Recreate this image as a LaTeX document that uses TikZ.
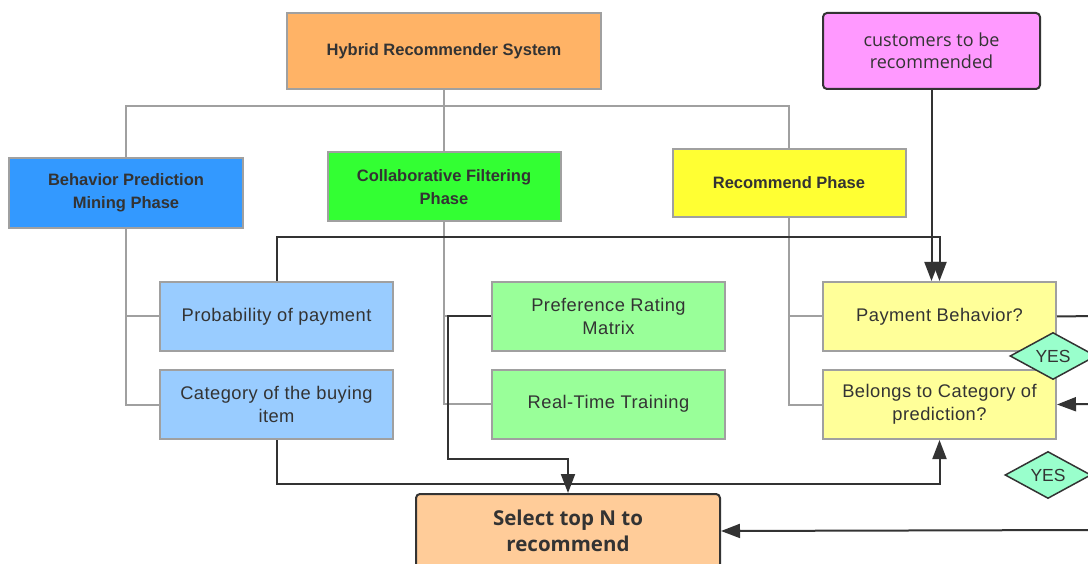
\documentclass[tikz,border=0pt]{standalone}
\usepackage{fontspec}
\setmainfont{Liberation Sans}
\newfontfamily\osans{Open Sans}
\newfontfamily\leaffont[LetterSpace=2.5]{Liberation Sans}
\usetikzlibrary{shapes.geometric,arrows.meta}
\definecolor{txt}{HTML}{333333}
\definecolor{bordergray}{HTML}{A0A0A0}
\definecolor{cHybrid}{HTML}{FFB366}
\definecolor{cBP}{HTML}{3399FF}
\definecolor{cCF}{HTML}{33FF33}
\definecolor{cRP}{HTML}{FFFF33}
\definecolor{cCust}{HTML}{FF99FF}
\definecolor{cBlue}{HTML}{99CCFF}
\definecolor{cGreen}{HTML}{99FF99}
\definecolor{cYellow}{HTML}{FFFF99}
\definecolor{cSel}{HTML}{FFCC99}
\definecolor{cYes}{HTML}{99FFCC}
\definecolor{dark}{HTML}{333333}
\tikzset{
  box/.style={draw=bordergray, line width=2pt, text=txt, align=center, inner sep=2pt,
    minimum width=233pt, minimum height=69pt},
  head/.style={box, font=\fontsize{16.5}{22.5}\selectfont\bfseries},
  leaf/.style={box, font=\leaffont\fontsize{18.3}{22.5}\selectfont},
  rbox/.style={draw=dark, line width=2pt, rounded corners=4pt, text=txt, align=center},
  yesd/.style={diamond, draw=dark, line width=1.5pt, fill=cYes, text=txt, inner sep=0pt,
    minimum width=86pt, minimum height=47pt, aspect=1.83, font=\fontsize{17.5}{20}\selectfont},
  tree/.style={draw=bordergray, line width=2pt},
  conn/.style={draw=dark, line width=2pt, -{Triangle[length=19pt,width=14pt]}},
  plain/.style={draw=dark, line width=2pt},
}
\begin{document}
\begin{tikzpicture}[x=1pt,y=-1pt]
\useasboundingbox (0,0) rectangle (1088,564);
\fill[white] (0,0) rectangle (1088,564);
\clip (0,0) rectangle (1088,564);

\coordinate (tj) at (444,106);
\coordinate (e1) at (1095,316);
\coordinate (e2) at (1095,404);
\coordinate (e3) at (1095,530);

\node[head, fill=cHybrid, minimum width=314pt, minimum height=76pt] (hyb) at (444,51) {Hybrid Recommender System};
\node[head, fill=cBP, minimum width=234pt, minimum height=70pt] (bp) at (126,193) {Behavior Prediction\\Mining Phase};
\node[head, fill=cCF, minimum width=233pt, minimum height=69pt] (cf) at (444,187) {Collaborative Filtering\\Phase};
\node[head, fill=cRP, minimum width=233pt, minimum height=68pt] (rp) at (789,183) {Recommend Phase};
\node[rbox, fill=cCust, minimum width=217pt, minimum height=76pt, font=\osans\fontsize{18}{22.5}\selectfont] (cust) at (931.5,51) {customers to be\\recommended};

\node[leaf, fill=cBlue] (prob) at (276.5,316.5) {Probability of payment};
\node[leaf, fill=cBlue] (cat) at (276.5,404.5) {Category of the buying\\item};
\node[leaf, fill=cGreen] (prm) at (608.5,316.5) {Preference Rating\\Matrix};
\node[leaf, fill=cGreen] (rtt) at (608.5,404) {Real-Time Training};
\node[leaf, fill=cYellow] (pb) at (939.5,316.5) {Payment Behavior?};
\node[leaf, fill=cYellow] (bel) at (939.5,404.5) {Belongs to Category of\\prediction?};

\node[rbox, fill=cSel, minimum width=304pt, minimum height=74pt, font=\osans\bfseries\fontsize{20.5}{26.5}\selectfont] (sel) at (568,531) {Select top N to\\recommend};

% gray hierarchy lines
\draw[tree] (hyb.south) -- (cf.north);
\draw[tree] (bp.north) |- (tj) -| (rp.north);
\draw[tree] (bp.south) |- (prob.west);
\draw[tree] (bp.south) |- (cat.west);
\draw[tree] (cf.south) |- (prm.west);
\draw[tree] (cf.south) |- (rtt.west);
\draw[tree] (rp.south) |- (pb.west);
\draw[tree] (rp.south) |- (bel.west);

% dark connectors
\draw[conn] (prob.north) -- ++(0,-44) -| (pb.north);
\draw[conn] (cust.south) -- (cust.south |- pb.north);
\draw[conn] (prm.west) -- ++(-43,0) |- ([yshift=34pt]sel.north) -- (sel.north);
\draw[conn] (cat.south) -- ++(0,44) -| (bel.south);
\draw[plain] (pb.east) -- (e1);
\draw[conn] (e2) -- (bel.east);
\draw[conn] (e3) -- (sel.east);

% YES diamonds
\node[yesd] (yes1) at (1053,356) {YES};
\node[yesd] (yes2) at (1048,475) {YES};
\end{tikzpicture}
\end{document}
